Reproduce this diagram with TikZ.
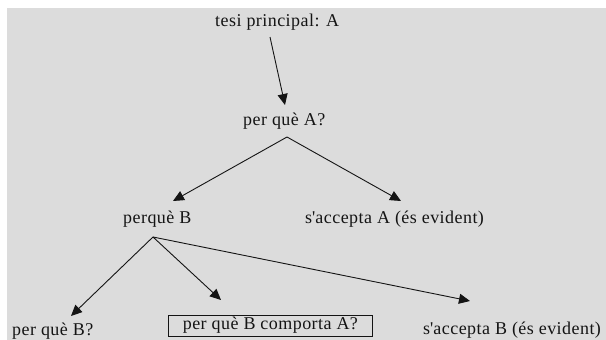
\documentclass[tikz,border=0pt]{standalone}
\usepackage{fontspec}
\setmainfont{Liberation Serif}[LetterSpace=2.5]
\usetikzlibrary{arrows.meta}
\definecolor{panel}{RGB}{220,220,220}
\definecolor{ink}{RGB}{20,20,20}
\newcommand{\apos}{\textquotesingle}
\begin{document}
\begin{tikzpicture}[x=1pt,y=-1pt,
  lbl/.style={inner sep=0pt, anchor=base west, text=ink,
    font=\fontsize{18}{21}\selectfont},
  boxed/.style={lbl, draw=ink, line width=0.8pt, inner sep=0pt,
    minimum width=204pt, minimum height=21pt, anchor=west},
  arr/.style={-{Triangle[length=11pt,width=10pt]}, line width=0.9pt, draw=ink}]
% page and grey panel
\useasboundingbox (0,0) rectangle (606,340);
\fill[white] (0,0) rectangle (606,340);
\fill[panel] (7,8) rectangle (606,340);

% statements
\node[lbl] (tesi) at (215,27) {tesi principal: A};
\node[lbl] (qA)   at (243,125) {per què A?};
\node[lbl] (pB)   at (123,223) {perquè B};
\node[lbl] (accA) at (305,223) {s\apos accepta A (és evident)};
\node[lbl] (qB)   at (12,335) {per què B?};
\node[boxed] (qBA) at (168,325.5) {per què B comporta A?};
\node[lbl] (accB) at (423,334) {s\apos accepta B (és evident)};

% connector ends
\coordinate (tesiOut) at (270,37);
\coordinate (qAIn)    at (285,105);
\coordinate (qAOut)   at (287,137);
\coordinate (pBIn)    at (173,201);
\coordinate (accAIn)  at (401,201);
\coordinate (pBOut)   at (153,237);
\coordinate (qBIn)    at (71,316);
\coordinate (qBAIn)   at (221,300);
\coordinate (accBIn)  at (470,301);

% arrows
\draw[arr] (tesiOut) -- (qAIn);
\draw[arr] (qAOut) -- (pBIn);
\draw[arr] (qAOut) -- (accAIn);
\draw[arr] (pBOut) -- (qBIn);
\draw[arr] (pBOut) -- (qBAIn);
\draw[arr] (pBOut) -- (accBIn);
\end{tikzpicture}
\end{document}
